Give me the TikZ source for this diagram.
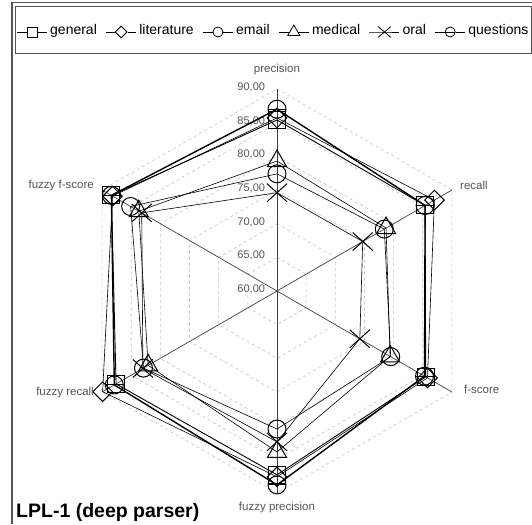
\documentclass[tikz,border=0pt]{standalone}
\usepackage{fontspec}
\setmainfont{Liberation Sans}
\usetikzlibrary{shapes.geometric,shapes.misc,calc}
\definecolor{framec}{HTML}{555555}
\definecolor{gridc}{HTML}{C4C4C4}
\definecolor{axisc}{HTML}{404040}
\definecolor{labc}{HTML}{555555}
\begin{document}
\begin{tikzpicture}[x=1pt,y=-1pt,
  mk/.style={draw, line width=1pt, inner sep=0pt},
  mksq/.style={mk, rectangle, minimum size=17pt},
  mkdi/.style={mk, diamond, minimum size=20pt},
  mkci/.style={mk, circle, minimum size=18pt},
  mktr/.style={mk, regular polygon, regular polygon sides=3, minimum size=22pt},
  mkx/.style={mk, cross out, minimum width=19pt, minimum height=17pt},
  mkq/.style={mkci, path picture={\draw[line width=1pt] (path picture bounding box.west) -- (path picture bounding box.east);}},
  lsq/.style={mk, line width=0.8pt, rectangle, minimum size=10pt},
  ldi/.style={mk, line width=0.8pt, diamond, minimum size=12pt},
  lci/.style={mk, line width=0.8pt, circle, minimum size=10pt},
  ltr/.style={mk, line width=0.8pt, regular polygon, regular polygon sides=3, minimum size=14pt},
  lx/.style={mk, line width=0.8pt, cross out, minimum width=12pt, minimum height=10pt},
  lq/.style={lci, path picture={\draw[line width=0.8pt] (path picture bounding box.west) -- (path picture bounding box.east);}},
  legline/.style={line width=0.8pt},
  legtext/.style={anchor=mid west, inner sep=0pt, font=\fontsize{14}{16}\selectfont},
  gridl/.style={gridc, line width=0.6pt, dash pattern=on 3pt off 3pt},
  axisl/.style={axisc, line width=0.7pt},
  ticklab/.style={text=labc, inner sep=0pt, font=\fontsize{11}{12}\selectfont},
  axlab/.style={text=labc, inner sep=0pt, font=\fontsize{11.5}{13}\selectfont}
]
\useasboundingbox (0,0) rectangle (532,524);
\fill[white] (0,0) rectangle (532,524);

% frame
\draw[framec, line width=1.2pt] (12,524) -- (12,2.5) -- (532,2.5);
\draw[framec, line width=1pt] (15,7) rectangle (531,54);

% legend
\coordinate (ls1) at (17,32);
\node[lsq] (lm1) at ($(ls1)+(15,0)$) {};
\coordinate (le1) at ($(ls1)+(30,0)$);
\draw[legline] (ls1) -- (lm1) (lm1) -- (le1);
\node[legtext] (lt1) at ($(le1)+(3,0)$) {general};

\coordinate (ls2) at ($(lt1.mid east)+(9,0)$);
\node[ldi] (lm2) at ($(ls2)+(15,0)$) {};
\coordinate (le2) at ($(ls2)+(30,0)$);
\draw[legline] (ls2) -- (lm2) (lm2) -- (le2);
\node[legtext] (lt2) at ($(le2)+(3,0)$) {literature};

\coordinate (ls3) at ($(lt2.mid east)+(9,0)$);
\node[lci] (lm3) at ($(ls3)+(15,0)$) {};
\coordinate (le3) at ($(ls3)+(30,0)$);
\draw[legline] (ls3) -- (lm3) (lm3) -- (le3);
\node[legtext] (lt3) at ($(le3)+(3,0)$) {email};

\coordinate (ls4) at ($(lt3.mid east)+(9,0)$);
\node[ltr] (lm4) at ($(ls4)+(15,0)$) {};
\coordinate (le4) at ($(ls4)+(30,0)$);
\draw[legline] (ls4) -- (lm4) (lm4) -- (le4);
\node[legtext] (lt4) at ($(le4)+(3,0)$) {medical};

\coordinate (ls5) at ($(lt4.mid east)+(9,0)$);
\node[lx] (lm5) at ($(ls5)+(15,0)$) {};
\coordinate (le5) at ($(ls5)+(30,0)$);
\draw[legline] (ls5) -- (lm5.center) -- (le5);
\node[legtext] (lt5) at ($(le5)+(3,0)$) {oral};

\coordinate (ls6) at ($(lt5.mid east)+(9,0)$);
\node[lq] (lm6) at ($(ls6)+(15,0)$) {};
\coordinate (le6) at ($(ls6)+(30,0)$);
\draw[legline] (ls6) -- (lm6) (lm6) -- (le6);
\node[legtext] (lt6) at ($(le6)+(3,0)$) {questions};

% radar
\begin{scope}[shift={(277,291)}, x=6.7333pt, y=6.7333pt]
  \coordinate (O) at (0,0);
  \foreach \k in {1,...,6}{\pgfmathsetmacro\ang{150-60*\k}\coordinate (A\k) at (\ang:30);}
  \foreach \r in {5,10,...,30}
    \draw[gridl] (90:\r) -- (30:\r) -- (-30:\r) -- (-90:\r) -- (-150:\r) -- (150:\r) -- cycle;
  \foreach \k in {1,...,6} \draw[axisl] (O) -- (A\k);
  \foreach \v [count=\j from 0] in {60,65,...,90}
    \node[ticklab, anchor=east] (tk\v) at (-1.75, {\j*5+0.22}) {\v,00};

  \foreach \nm/\lw/\vals in {
      ema/0.6pt/{77.4,78.4,79.5,80.5,82.9,85.1},
      med/0.6pt/{79.3,78.7,79.4,83.9,82.1,83.7},
      ora/0.6pt/{74.6,74.7,74.2,82.4,83.0,83.2},
      lit/0.6pt/{85.7,87.0,85.8,87.6,89.9,88.2},
      gen/0.9pt/{85.4,85.4,85.5,87.3,87.6,88.4},
      que/1.4pt/{87.0,85.4,85.3,88.8,87.9,88.4}}
  {
    \foreach \v [count=\k] in \vals {
      \pgfmathsetmacro\ang{150-60*\k}
      \pgfmathsetmacro\rr{\v-60}
      \coordinate (\nm\k) at (\ang:\rr);
    }
    \draw[line width=\lw, line join=round] (\nm1) -- (\nm2) -- (\nm3) -- (\nm4) -- (\nm5) -- (\nm6) -- cycle;
  }
  \foreach \nm/\st in {ema/mkci, med/mktr, ora/mkx, lit/mkdi, gen/mksq, que/mkq}
    \foreach \k in {1,...,6}
      \node[\st] (\nm m\k) at (\nm\k) {};
\end{scope}

% axis labels
\node[axlab] (lp) at (277,70) {precision};
\node[axlab, anchor=west] (lr) at (460,185) {recall};
\node[axlab, anchor=west] (lf) at (464,389) {f-score};
\node[axlab] (lfp) at (277,508) {fuzzy precision};
\node[axlab, anchor=east] (lfr) at (94,393) {fuzzy recall};
\node[axlab, anchor=east] (lff) at (94,186) {fuzzy f-score};

% title
\node[anchor=base west, inner sep=0pt, font=\bfseries\fontsize{19.5}{22}\selectfont] (title) at (16,517) {LPL-1 (deep parser)};
\end{tikzpicture}
\end{document}
